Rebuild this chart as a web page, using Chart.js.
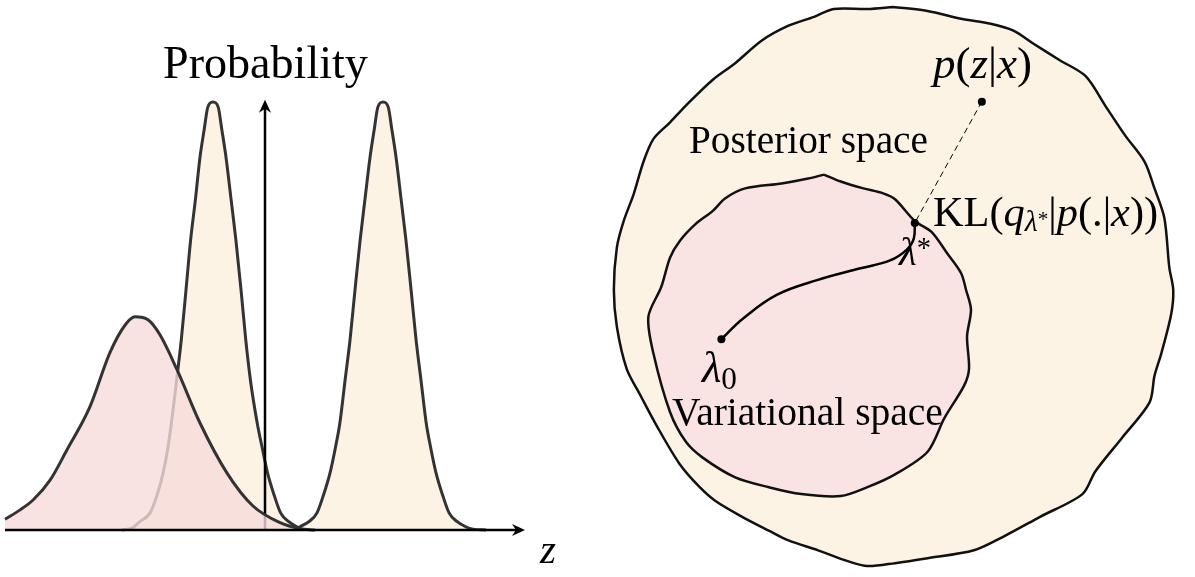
<!DOCTYPE html>
<html>
<head>
<meta charset="utf-8">
<script src="https://cdn.jsdelivr.net/npm/chart.js@4.4.0/dist/chart.umd.min.js"></script>
<style>
  html, body { margin: 0; padding: 0; background: #fff; }
  #wrap { position: relative; width: 1195px; height: 577px; overflow: hidden; }
  canvas { position: absolute; top: 0; }
  #left { left: 0; }
  #right { left: 600px; }
</style>
</head>
<body>
<div id="wrap">
  <canvas id="left" width="600" height="577"></canvas>
  <canvas id="right" width="595" height="577"></canvas>
</div>
<script>
// ---- left panel: densities over z ----
// broad variational density
const variationalZ = [-5.0, -4.71, -4.46, -4.13, -3.81, -3.37, -2.98, -2.69, -2.50, -2.25, -2.02, -1.69, -1.25, -0.73, -0.23, 0.29, 0.67, 0.96];
const variationalP = [0.025, 0.047, 0.070, 0.117, 0.187, 0.287, 0.415, 0.479, 0.498, 0.491, 0.456, 0.374, 0.250, 0.133, 0.056, 0.017, 0.003, 0];

// posterior, first (left) mode
const modeAZ = [-2.75, -2.55, -2.40, -2.21, -2.08, -1.96, -1.87, -1.80, -1.70, -1.61, -1.52, -1.43, -1.34, -1.25, -1.17, -1.10, -1.00,
                -0.90, -0.83, -0.75, -0.65, -0.56, -0.46, -0.37, -0.28, -0.15, -0.05, 0.05, 0.18, 0.30, 0.45, 0.62, 0.70];
const modeAP = [0, 0.005, 0.02, 0.040, 0.08, 0.133, 0.19, 0.25, 0.35, 0.444, 0.56, 0.678, 0.77, 0.871, 0.935, 0.988, 1.0,
                0.988, 0.935, 0.871, 0.77, 0.678, 0.56, 0.444, 0.35, 0.25, 0.19, 0.133, 0.08, 0.040, 0.02, 0.007, 0];

// posterior, second (right) mode
const modeBZ = [0.60, 0.67, 0.85, 1.00, 1.12, 1.25, 1.35, 1.44, 1.54, 1.635, 1.73, 1.83, 1.92, 2.02, 2.10, 2.17, 2.27,
                2.37, 2.44, 2.52, 2.62, 2.71, 2.81, 2.905, 3.00, 3.10, 3.19, 3.29, 3.42, 3.54, 3.69, 3.87, 4.00, 4.25];
const modeBP = [0, 0.007, 0.02, 0.040, 0.08, 0.133, 0.19, 0.25, 0.35, 0.444, 0.56, 0.678, 0.77, 0.871, 0.935, 0.988, 1.0,
                0.988, 0.935, 0.871, 0.77, 0.678, 0.56, 0.444, 0.35, 0.25, 0.19, 0.133, 0.08, 0.040, 0.02, 0.007, 0.002, 0];

// ---- right panel: spaces (x right, y down) ----
const outerX = [293, 328, 362, 392, 415, 435, 462, 488, 508, 528, 548, 558, 568, 573, 577, 575, 565, 558, 553, 525, 498, 485, 442, 405, 375, 328, 295,
                267, 247, 217, 187, 167, 140, 113, 97, 77, 53, 37, 23, 13, 10, 13, 20, 30, 40, 50, 67, 83, 110, 133, 160, 187, 213, 233, 267, 293];
const outerY = [3, 7, 15, 20, 27, 40, 57, 73, 103, 133, 160, 187, 217, 267, 290, 314, 354, 377, 404, 440, 474, 497, 520, 540, 554, 562, 567,
                570, 565, 554, 544, 534, 520, 504, 490, 467, 427, 397, 370, 327, 290, 247, 220, 193, 160, 137, 120, 103, 77, 60, 37, 22, 13, 5, 5, 3];

const innerX = [223, 240, 263, 283, 295, 315, 332, 348, 362, 367, 372, 368, 370, 365, 345, 328, 295, 267, 240, 200, 167, 133, 100, 83, 67,
                50, 45, 58, 67, 77, 93, 110, 123, 143, 180, 207, 223];
const innerY = [173, 180, 187, 192, 198, 220, 231, 253, 273, 290, 310, 337, 370, 387, 420, 454, 477, 490, 499, 497, 490, 480, 460, 444, 414,
                354, 317, 287, 257, 240, 223, 210, 197, 187, 182, 177, 173];

const pathX = [119, 141, 175, 216, 260, 290, 307, 314, 315];
const pathY = [340, 319, 295, 280, 268, 260, 249, 238, 222];

const posteriorPt = { x: 383, y: 99 };
const lambda0Pt = { x: 119, y: 340 };
const lambdaStarPt = { x: 315, y: 222 };

const pts = (xs, ys) => xs.map((x, i) => ({ x: x, y: ys[i] }));

const cream = '#fdf3e5';
const pinkFill = 'rgba(246,219,219,0.8)';
const innerPink = '#f9e3e3';
const ink = '#333333';
const FONT = '"Liberation Serif", "DejaVu Serif", serif';

function R(t, i, s, dy) { return { t: t, i: !!i, s: s || 1, dy: dy || 0 }; }
function fontFor(r, size) { return (r.i ? 'italic ' : '') + (size * r.s).toFixed(1) + 'px ' + FONT; }

// draw a run of text pieces, scaled so it spans left..right
function drawRuns(ctx, runs, left, right, baseline) {
  let w = 0;
  runs.forEach(r => { ctx.font = fontFor(r, 36); w += ctx.measureText(r.t).width; });
  const size = 36 * (right - left) / w;
  let x = left;
  ctx.save();
  ctx.fillStyle = '#000';
  ctx.textAlign = 'left';
  ctx.textBaseline = 'alphabetic';
  runs.forEach(r => {
    ctx.font = fontFor(r, size);
    ctx.fillText(r.t, x, baseline + r.dy * size);
    x += ctx.measureText(r.t).width;
  });
  ctx.restore();
}

function arrowHead(ctx, x, y, dx, dy) {
  // stealth-like head, tip at (x,y), pointing along (dx,dy)
  const nx = -dy, ny = dx;
  ctx.beginPath();
  ctx.moveTo(x, y);
  ctx.lineTo(x - dx * 13 + nx * 6, y - dy * 13 + ny * 6);
  ctx.lineTo(x - dx * 9, y - dy * 9);
  ctx.lineTo(x - dx * 13 - nx * 6, y - dy * 13 - ny * 6);
  ctx.closePath();
  ctx.fill();
}

const leftDecor = {
  id: 'leftDecor',
  afterDatasetDraw(chart, args) {
    if (args.index !== 1) return;
    // vertical axis goes under the variational density
    const ctx = chart.ctx, xs = chart.scales.x, ys = chart.scales.y;
    const x0 = xs.getPixelForValue(0);
    ctx.save();
    ctx.strokeStyle = '#000';
    ctx.fillStyle = '#000';
    ctx.lineWidth = 2.5;
    ctx.beginPath();
    ctx.moveTo(x0, ys.getPixelForValue(0));
    ctx.lineTo(x0, ys.getPixelForValue(1.005) + 6);
    ctx.stroke();
    arrowHead(ctx, x0, ys.getPixelForValue(1.005), 0, -1);
    ctx.restore();
  },
  afterDatasetsDraw(chart) {
    const ctx = chart.ctx, xs = chart.scales.x, ys = chart.scales.y;
    const yb = ys.getPixelForValue(0);
    ctx.save();
    ctx.strokeStyle = '#000';
    ctx.fillStyle = '#000';
    ctx.lineWidth = 2.5;
    ctx.beginPath();
    ctx.moveTo(xs.getPixelForValue(-5), yb);
    ctx.lineTo(xs.getPixelForValue(5) - 6, yb);
    ctx.stroke();
    arrowHead(ctx, xs.getPixelForValue(5), yb, 1, 0);
    ctx.restore();
    drawRuns(ctx, [R('Probability')], 163, 368, 78);
    drawRuns(ctx, [R('z', true)], 540, 556, 563);
  }
};

const densityStyle = {
  fill: 'origin', borderColor: ink, borderWidth: 3, pointRadius: 0,
  cubicInterpolationMode: 'monotone', clip: false
};

new Chart(document.getElementById('left'), {
  type: 'line',
  data: {
    datasets: [
      Object.assign({ data: pts(variationalZ, variationalP), order: 0, backgroundColor: pinkFill }, densityStyle),
      Object.assign({ data: pts(modeAZ, modeAP), order: 1, backgroundColor: cream }, densityStyle),
      Object.assign({ data: pts(modeBZ, modeBP), order: 2, backgroundColor: cream }, densityStyle)
    ]
  },
  options: {
    responsive: false,
    animation: false,
    devicePixelRatio: 1,
    layout: { padding: { left: 5, right: 75, top: 102, bottom: 47 } },
    scales: {
      x: { type: 'linear', min: -5, max: 5, display: false },
      y: { type: 'linear', min: 0, max: 1, display: false }
    },
    plugins: { legend: { display: false }, tooltip: { enabled: false } }
  },
  plugins: [leftDecor]
});

const rightDecor = {
  id: 'rightDecor',
  afterDatasetsDraw(chart) {
    const ctx = chart.ctx;
    drawRuns(ctx, [R('Posterior space')], 89, 328, 153);
    drawRuns(ctx, [R('Variational space')], 72, 343, 425);
    drawRuns(ctx, [R('p', true), R('('), R('z', true), R('|'), R('x', true), R(')')], 333, 432, 78);
    drawRuns(ctx, [R('KL('), R('q', true), R('\u03bb', true, 0.7, 0.11), R('*', false, 0.5, 0), R('|'),
                   R('p', true), R('(.|'), R('x', true), R('))')], 333, 558, 226);
    drawRuns(ctx, [R('\u03bb', true), R('0', false, 0.7, 0.15)], 102, 137, 382);
    drawRuns(ctx, [R('\u03bb', true), R('*', false, 0.7, -0.2)], 299, 331, 265);
  }
};

new Chart(document.getElementById('right'), {
  type: 'line',
  data: {
    datasets: [
      { data: [posteriorPt, lambda0Pt, lambdaStarPt], showLine: false, order: -1,
        pointRadius: 4, pointBackgroundColor: '#000', pointBorderWidth: 0, clip: false },
      { data: pts(pathX, pathY), order: 0, borderColor: '#000', borderWidth: 2.5,
        pointRadius: 0, tension: 0.4, fill: false, clip: false },
      { data: [posteriorPt, lambdaStarPt], order: 0.5, borderColor: '#000', borderWidth: 1,
        borderDash: [6, 4], pointRadius: 0, fill: false, clip: false },
      { data: pts(innerX, innerY), order: 1, borderColor: '#111', borderWidth: 2.5, backgroundColor: innerPink,
        pointRadius: 0, tension: 0.3, fill: 'shape', clip: false },
      { data: pts(outerX, outerY), order: 2, borderColor: '#111', borderWidth: 2.5, backgroundColor: cream,
        pointRadius: 0, tension: 0.3, fill: 'shape', clip: false }
    ]
  },
  options: {
    responsive: false,
    animation: false,
    devicePixelRatio: 1,
    layout: { padding: 0 },
    scales: {
      x: { type: 'linear', min: 0, max: 595, display: false },
      y: { type: 'linear', min: 0, max: 577, reverse: true, display: false }
    },
    plugins: { legend: { display: false }, tooltip: { enabled: false } }
  },
  plugins: [rightDecor]
});
</script>
</body>
</html>
